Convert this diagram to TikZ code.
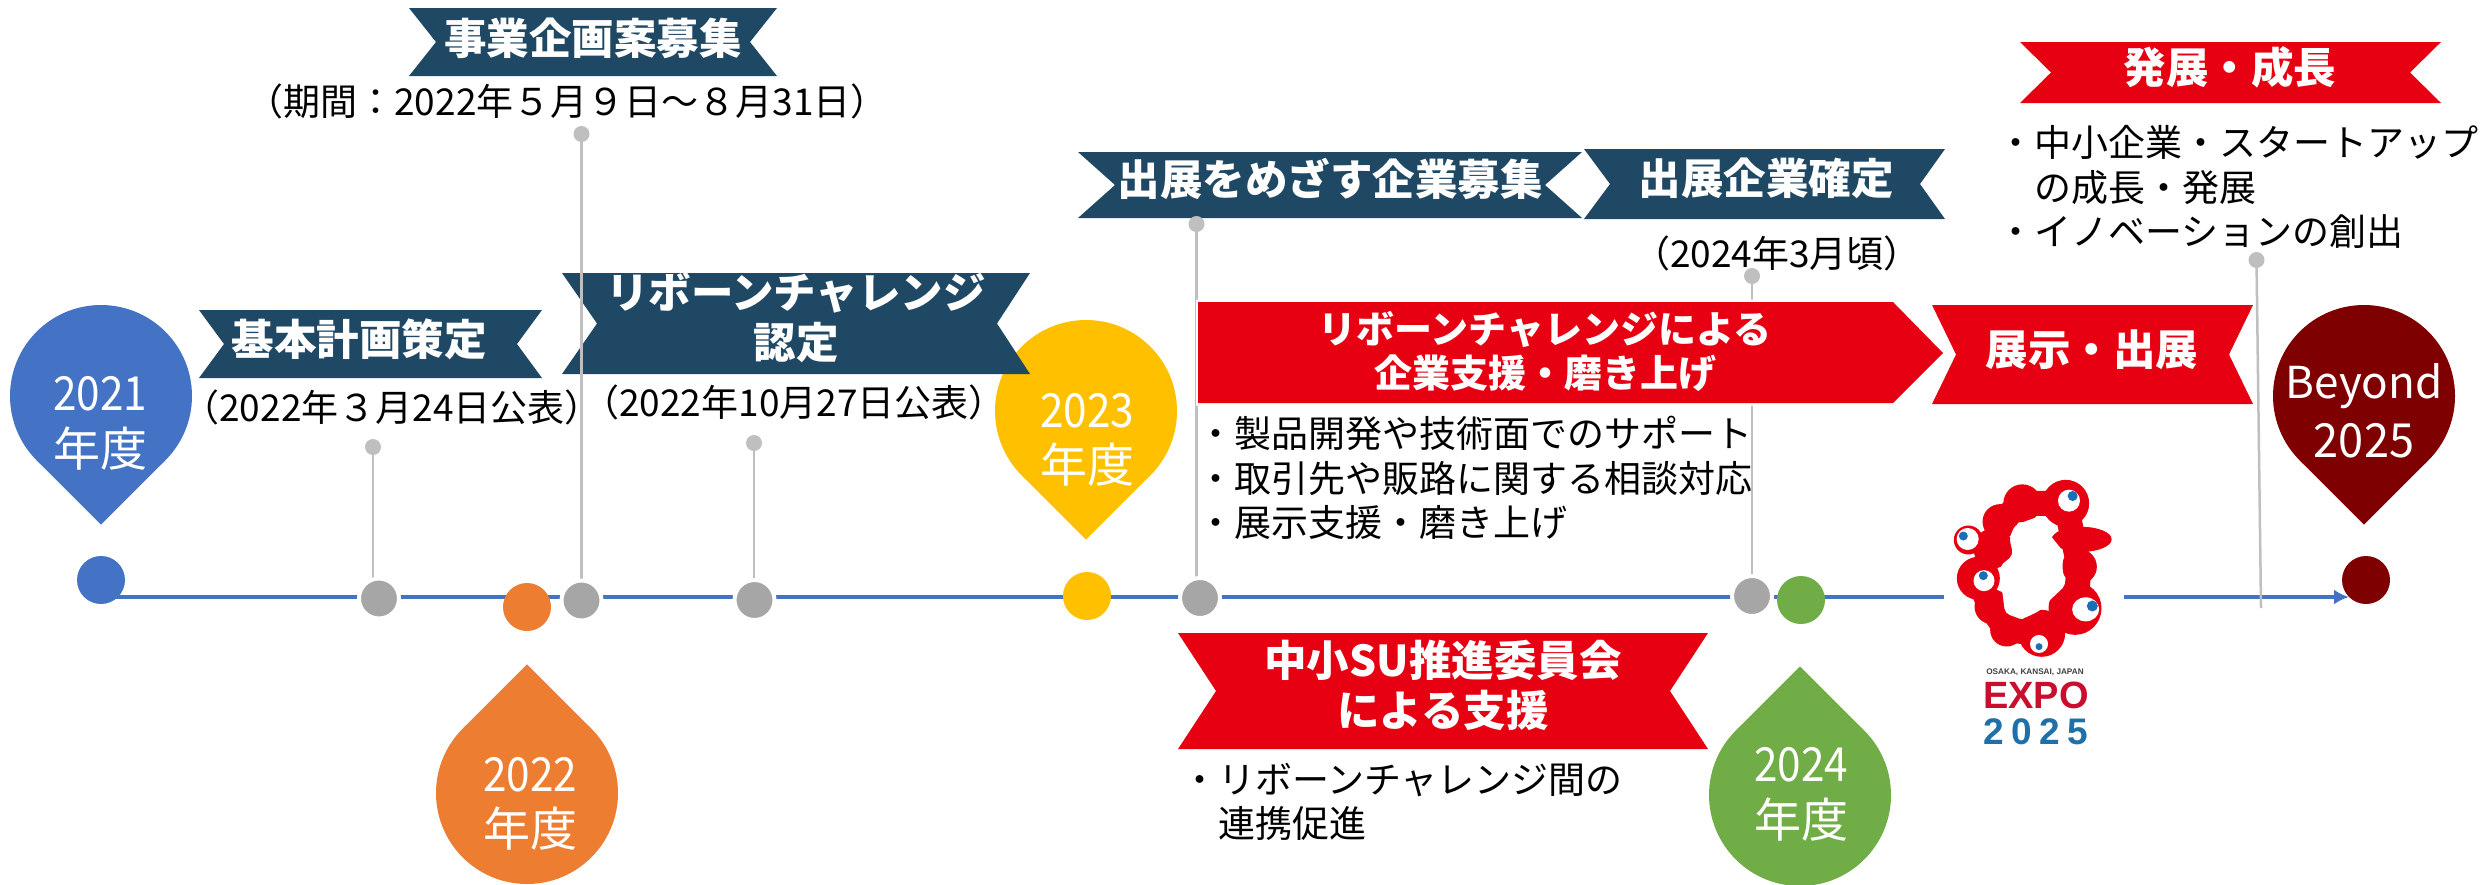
\documentclass[tikz,border=0pt]{standalone}
\usepackage{fontspec}
\usepackage{graphicx}
\setmainfont{Noto Sans CJK JP}
\newfontfamily\expofont{Liberation Sans}
\newfontfamily\expospaced[LetterSpace=20]{Liberation Sans}
\usetikzlibrary{arrows.meta,shapes.geometric}
\definecolor{navy}{HTML}{1F4864}
\definecolor{redx}{HTML}{E60012}
\definecolor{bluex}{HTML}{4472C4}
\definecolor{orangex}{HTML}{ED7D31}
\definecolor{yellowx}{HTML}{FFC000}
\definecolor{greenx}{HTML}{70AD47}
\definecolor{maroonx}{HTML}{7F0000}
\definecolor{ballgray}{HTML}{BFBFBF}
\definecolor{dotgray}{HTML}{A6A6A6}
\definecolor{eyeblue}{HTML}{1B6FB8}
\definecolor{expored}{HTML}{C8102E}
\definecolor{expoblue}{HTML}{1F6FA8}
\newcommand{\fsz}[1]{\fontsize{#1}{#1}\selectfont}
\newcommand{\yrnum}[1]{\scalebox{0.9}[1]{#1}}
\tikzset{
  bannertext/.style={text=white,font=\fsz{42.5}\bfseries,inner sep=0pt,align=center},
  arrowtext/.style={text=white,font=\fontsize{38}{44}\selectfont\bfseries,inner sep=0pt,align=center},
  datetext/.style={text=black,font=\fsz{37},inner sep=0pt},
  bullettext/.style={text=black,font=\fontsize{37}{44.5}\selectfont,inner sep=0pt,anchor=west,align=left},
  yeartext/.style={text=white,font=\fontsize{47}{54}\selectfont,inner sep=0pt,align=center},
  beyondtext/.style={text=white,font=\fontsize{44}{54}\selectfont,inner sep=0pt,align=center},
  dropnode/.style={circle,inner sep=0pt,minimum size=182pt},
  balldot/.style={circle,fill=ballgray,inner sep=0pt,minimum size=16pt},
  graydot/.style={circle,fill=dotgray,draw=white,line width=4pt,inner sep=0pt,minimum size=40pt},
  yeardot/.style={circle,inner sep=0pt,minimum size=48pt},
  stem/.style={draw=ballgray,line width=2.5pt},
  timeline/.style={draw=bluex,line width=3.5pt,-{Latex[length=15pt,width=15pt]}},
}
% colour, x1, x2, y1, y2, left notch, right notch
\newcommand{\ribbon}[7]{\fill[#1] (#2,#4) -- (#3,#4) -- ({#3-#7},{(#4+#5)/2}) -- (#3,#5) -- (#2,#5) -- ({#2+#6},{(#4+#5)/2}) -- cycle;}
% colour, centre x, centre y, tip side (+1 = down, -1 = up), name
\newcommand{\teardrop}[5]{%
  \node[dropnode,fill=#1] (#5) at (#2,#3) {};
  \fill[#1] (#2,{#3+#4*128.7}) -- ({#2-64.35},{#3+#4*64.35}) -- ({#2+64.35},{#3+#4*64.35}) -- cycle;}
\begin{document}
\begin{tikzpicture}[x=1pt,y=-1pt]
\useasboundingbox (0,0) rectangle (2486,884);
% drops
\teardrop{bluex}{101}{396}{1}{d2021}
\teardrop{yellowx}{1086}{411}{1}{d2023}
\teardrop{maroonx}{2364}{396}{1}{dbeyond}
\teardrop{orangex}{527}{793}{-1}{d2022}
\teardrop{greenx}{1800}{795}{-1}{d2024}
% year labels
\node[yeartext] at (100,394) {\yrnum{2021}};
\node[yeartext] at (100,449) {年度};
\node[yeartext] at (1087,411) {\yrnum{2023}};
\node[yeartext] at (1087,465) {年度};
\node[yeartext] at (530,775) {\yrnum{2022}};
\node[yeartext] at (530,829) {年度};
\node[yeartext] at (1801,765) {\yrnum{2024}};
\node[yeartext] at (1801,820) {年度};
\node[beyondtext] at (2364,386) {Beyond};
\node[yeartext] at (2364,441) {\scalebox{0.96}[1]{2025}};
% ribbons
\ribbon{navy}{409}{777}{8}{76}{27}{27}
\ribbon{navy}{199}{542}{310}{378}{25}{25}
\ribbon{navy}{562}{1030}{273}{374}{35}{33}
\ribbon{navy}{1078}{1582}{152}{218}{37}{37}
\ribbon{navy}{1584}{1945}{149}{219}{26}{25}
\ribbon{redx}{1178}{1708}{633}{749}{38}{38}
\ribbon{redx}{2020}{2441}{42}{103}{31}{31}
% timeline
\coordinate (tlstart) at (101,597);
\coordinate (tlend) at (2349,597);
\draw[timeline] (tlstart) -- (tlend);
\node[fill=white,minimum width=180pt,minimum height=30pt,inner sep=0pt] (expogap) at (2034,597) {};
% dots and stems
\node[balldot] (b1) at (373,447) {};
\node[balldot] (b2) at (581.5,134) {};
\node[balldot] (b3) at (754,443) {};
\node[balldot] (b4) at (1196.5,224) {};
\node[balldot] (b5) at (1752,276) {};
\node[balldot] (b6) at (2256.5,260) {};
\coordinate (b6end) at (2261,608);
\coordinate (g1) at (379,598.5);
\coordinate (g2) at (581.5,600.5);
\coordinate (g3) at (754.5,600);
\coordinate (g4) at (1200,598);
\coordinate (g5) at (1752,596);
\draw[stem] (b1) -- (b1 |- g1);
\draw[stem] (b2) -- (b2 |- g2);
\draw[stem] (b3) -- (b3 |- g3);
\draw[stem] (b4) -- (b4 |- g4);
\draw[stem] (b5) -- (b5 |- g5);
\draw[stem] (b6) -- (b6end);
\node[graydot] (gray1) at (g1) {};
\node[graydot] (gray2) at (g2) {};
\node[graydot] (gray3) at (g3) {};
\node[graydot] (gray4) at (g4) {};
\node[graydot] (gray5) at (g5) {};
\node[yeardot,fill=bluex] (y2021) at (101,580) {};
\node[yeardot,fill=orangex] (y2022) at (527,607) {};
\node[yeardot,fill=yellowx] (y2023) at (1087,596) {};
\node[yeardot,fill=greenx] (y2024) at (1801,600) {};
\node[yeardot,fill=maroonx] (ybeyond) at (2366,580) {};
% red arrow and exhibit ribbon
\fill[white] (1196,299.5) -- (1895,299.5) -- (1948,353) -- (1895,405.5) -- (1196,405.5) -- cycle;
\fill[redx] (1198,302) -- (1893,302) -- (1943,353) -- (1893,403) -- (1198,403) -- cycle;
\ribbon{redx}{1932}{2253}{305}{404}{24}{24}
% ribbon text
\node[bannertext] (t1) at (593,38) {事業企画案募集};
\node[bannertext] (t2) at (359,339) {基本計画策定};
\node[bannertext,font=\fontsize{42.5}{50}\selectfont\bfseries] (t3) at (796,318) {リボーンチャレンジ\\認定};
\node[bannertext] (t4) at (1330,179) {出展をめざす企業募集};
\node[bannertext] (t5) at (1766,178) {出展企業確定};
\node[arrowtext] (t6) at (1545,351) {リボーンチャレンジによる\\企業支援・磨き上げ};
\node[bannertext] (t7) at (2092,350) {展示・出展};
\node[bannertext] (t8) at (2230,67) {発展・成長};
\node[bannertext,font=\fontsize{42.5}{50}\selectfont\bfseries] (t9) at (1443,685) {中小SU推進委員会\\による支援};
% dates
\node[datetext] (dt1) at (567,101) {（期間：2022年５月９日～８月31日）};
\node[datetext] (dt2) at (392,407) {（2022年３月24日公表）};
\node[datetext] (dt3) at (794,402) {（2022年10月27日公表）};
\node[datetext] (dt4) at (1777,253) {（2024年3月頃）};
% bullets
\node[bullettext] (bl1) at (1197,478) {・製品開発や技術面でのサポート\\・取引先や販路に関する相談対応\\・展示支援・磨き上げ};
\node[bullettext] (bl2) at (1181,802) {・リボーンチャレンジ間の\\\hspace*{37pt}連携促進};
\node[bullettext] (bl3) at (1997,187) {・中小企業・スタートアップ\\\hspace*{37pt}の成長・発展\\・イノベーションの創出};
% expo logo
\begin{scope}[shift={(1900,460)},x=0.3333pt,y=-0.3333pt]
\draw[redx,line width=25pt,line join=round] (367,130) -- (300,185) -- (280,265) -- (235,355) -- (270,440) -- (320,510) -- (425,520) -- (525,445) -- (538,320) -- (520,240) -- (497,130) -- cycle;
\node[circle,fill=redx,inner sep=0pt,minimum size=38pt] at (367,130) {};
\node[circle,fill=redx,inner sep=0pt,minimum size=35pt] at (300,185) {};
\node[circle,fill=redx,inner sep=0pt,minimum size=29pt] at (205,240) {};
\node[circle,fill=redx,inner sep=0pt,minimum size=40pt] at (280,265) {};
\node[circle,fill=redx,inner sep=0pt,minimum size=43pt] at (235,355) {};
\node[circle,fill=redx,inner sep=0pt,minimum size=35pt] at (276,440) {};
\node[circle,fill=redx,inner sep=0pt,minimum size=33pt] at (320,510) {};
\node[circle,fill=redx,inner sep=0pt,minimum size=47pt] at (425,520) {};
\node[circle,fill=redx,inner sep=0pt,minimum size=53pt] at (525,445) {};
\node[circle,fill=redx,inner sep=0pt,minimum size=35pt] at (538,320) {};
\node[ellipse,fill=redx,inner sep=0pt,minimum width=60pt,minimum height=25pt] at (545,238) {};
\node[circle,fill=redx,inner sep=0pt,minimum size=47pt] at (497,130) {};
\fill[white,rounded corners=5pt] (345,195) -- (415,170) -- (450,225) -- (490,275) -- (487,330) -- (498,375) -- (450,420) -- (420,452) -- (365,478) -- (315,460) -- (305,380) -- (298,320) -- (340,285) -- (328,235) -- cycle;
\node[circle,fill=white,inner sep=0pt,minimum size=22pt] at (203,237) {};
\node[circle,fill=eyeblue,inner sep=0pt,minimum size=9pt] at (190,228) {};
\node[circle,fill=white,inner sep=0pt,minimum size=21pt] at (252,362) {};
\node[circle,fill=eyeblue,inner sep=0pt,minimum size=9pt] at (250,347) {};
\node[circle,fill=white,inner sep=0pt,minimum size=18pt] at (417,552) {};
\node[circle,fill=eyeblue,inner sep=0pt,minimum size=7pt] at (417,560) {};
\node[ellipse,fill=white,inner sep=0pt,minimum width=27pt,minimum height=24pt] at (557,448) {};
\node[circle,fill=eyeblue,inner sep=0pt,minimum size=11pt] at (577,438) {};
\node[circle,fill=white,inner sep=0pt,minimum size=22pt] at (507,122) {};
\node[circle,fill=eyeblue,inner sep=0pt,minimum size=10pt] at (518,108) {};
\end{scope}
\node[inner sep=0pt,text=black!75,font=\expofont\fontsize{8.2}{10}\selectfont\bfseries] (osaka) at (2035,672) {OSAKA, KANSAI, JAPAN};
\node[inner sep=0pt,text=expored,font=\expofont\fontsize{38}{40}\selectfont\bfseries] (expo) at (2036,695) {EXPO};
\node[inner sep=0pt,text=expoblue,font=\expospaced\fontsize{37}{40}\selectfont\bfseries] (y2025) at (2036,732) {2025};
\end{tikzpicture}
\end{document}
